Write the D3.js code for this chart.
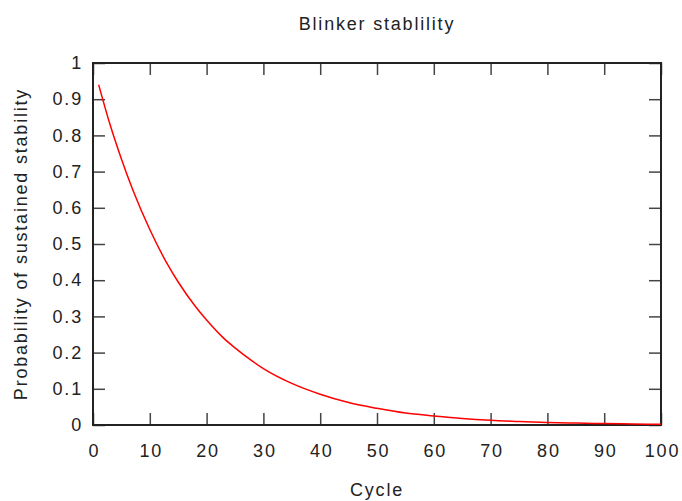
<!DOCTYPE html>
<html>
<head>
<meta charset="utf-8">
<script src="https://cdn.jsdelivr.net/npm/d3@7"></script>
<style>
  body { margin: 0; background: #fff; }
  text { font-family: "Liberation Sans", Arial, sans-serif; }
</style>
</head>
<body>
<svg id="chart"></svg>
<script>
// Values
const cycles = [1, 3, 5, 7, 10, 13, 15, 18, 20, 23, 25, 28, 30, 35, 40, 45, 50, 55, 60, 65, 70, 75, 80, 85, 90, 95, 100];
const probability = [0.94, 0.83, 0.735, 0.65, 0.54, 0.447, 0.395, 0.328, 0.29, 0.24, 0.213, 0.177, 0.156, 0.115, 0.085, 0.062, 0.046, 0.033, 0.025, 0.018, 0.013, 0.0097, 0.0071, 0.0052, 0.0038, 0.0028, 0.0021];

const xTicks = [0, 10, 20, 30, 40, 50, 60, 70, 80, 90, 100];
const yTicks = [0, 0.1, 0.2, 0.3, 0.4, 0.5, 0.6, 0.7, 0.8, 0.9, 1];
const yTickLabels = ["0", "0.1", "0.2", "0.3", "0.4", "0.5", "0.6", "0.7", "0.8", "0.9", "1"];

const width = 682, height = 501;
const margin = {top: 63, right: 21, bottom: 76, left: 93};

const svg = d3.select("#chart")
  .attr("width", width)
  .attr("height", height);

const xScale = d3.scaleLinear()
  .domain([0, 100])
  .range([margin.left, width - margin.right]);

const yScale = d3.scaleLinear()
  .domain([0, 1])
  .range([height - margin.bottom, margin.top]);

// styles the axis groups the same way
function styleAxis(g) {
  g.select(".domain").remove();
  g.selectAll(".tick line").attr("stroke", "#444").attr("stroke-width", 1.5);
  g.selectAll(".tick text")
    .attr("fill", "#222")
    .style("font-size", "18px")
    .style("letter-spacing", "1.8px");
}

// bottom + top
svg.append("g")
  .attr("transform", `translate(0,${height - margin.bottom})`)
  .call(d3.axisBottom(xScale).tickValues(xTicks).tickSize(-12).tickPadding(19))
  .call(styleAxis)
  .selectAll(".tick text").attr("dx", "1px");

svg.append("g")
  .attr("transform", `translate(0,${margin.top})`)
  .call(d3.axisTop(xScale).tickValues(xTicks).tickSize(-12).tickFormat(""))
  .call(styleAxis);

// left + right
svg.append("g")
  .attr("transform", `translate(${margin.left},0)`)
  .call(d3.axisLeft(yScale).tickValues(yTicks).tickSize(-12).tickPadding(10)
    .tickFormat((d, i) => yTickLabels[i]))
  .call(styleAxis);

svg.append("g")
  .attr("transform", `translate(${width - margin.right},0)`)
  .call(d3.axisRight(yScale).tickValues(yTicks).tickSize(-12).tickFormat(""))
  .call(styleAxis);

// frame
svg.append("rect")
  .attr("x", margin.left)
  .attr("y", margin.top)
  .attr("width", width - margin.left - margin.right)
  .attr("height", height - margin.top - margin.bottom)
  .attr("fill", "none")
  .attr("stroke", "#222")
  .attr("stroke-width", 2);

// the curve
const line = d3.line()
  .x((d, i) => xScale(cycles[i]))
  .y(d => yScale(d))
  .curve(d3.curveMonotoneX);

svg.append("path")
  .datum(probability)
  .attr("d", line)
  .attr("fill", "none")
  .attr("stroke", "#ff0000")
  .attr("stroke-width", 1.5);

// title and axis labels
svg.append("text")
  .attr("x", (margin.left + width - margin.right) / 2)
  .attr("y", 30)
  .attr("text-anchor", "middle")
  .style("font-size", "18px")
  .style("letter-spacing", "1.8px")
  .attr("fill", "#222")
  .text("Blinker stablility");

svg.append("text")
  .attr("x", (margin.left + width - margin.right) / 2)
  .attr("y", 496)
  .attr("text-anchor", "middle")
  .style("font-size", "18px")
  .style("letter-spacing", "1.8px")
  .attr("fill", "#222")
  .text("Cycle");

svg.append("text")
  .attr("transform", `translate(27,${(margin.top + height - margin.bottom) / 2}) rotate(-90)`)
  .attr("text-anchor", "middle")
  .style("font-size", "18px")
  .style("letter-spacing", "1.8px")
  .attr("fill", "#222")
  .text("Probability of sustained stability");
</script>
</body>
</html>
